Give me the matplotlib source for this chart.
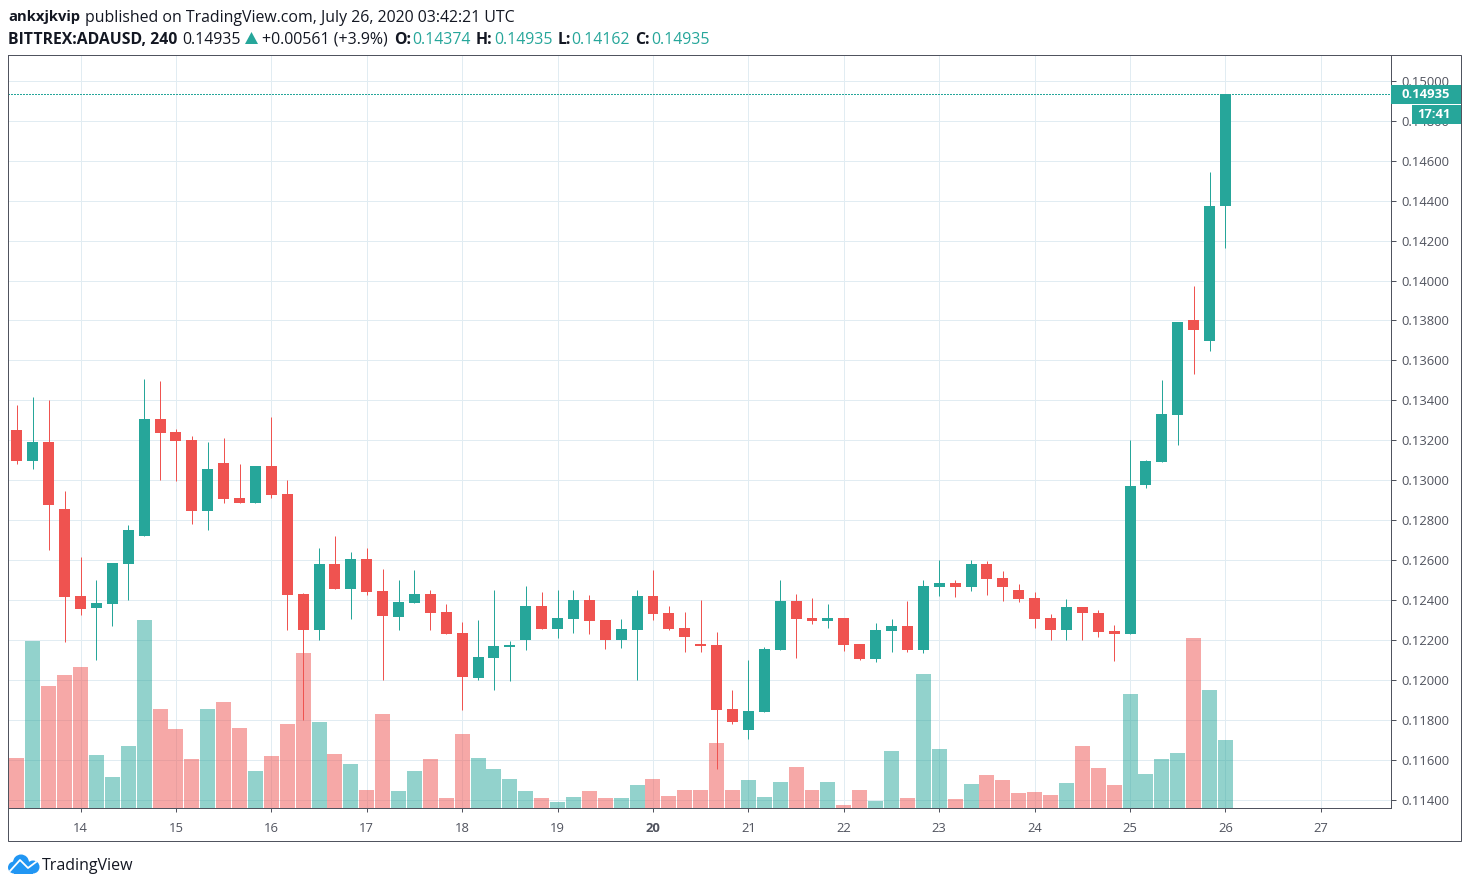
"""ADAUSD 4h candles with volume, TradingView style snapshot."""
import matplotlib
matplotlib.use('Agg')
import matplotlib.dates as mdates
import matplotlib.pyplot as plt
import numpy as np
import pandas as pd
from matplotlib.patches import Ellipse, Polygon, Rectangle

W, H = 1470, 888
GREEN = '#26a69a'
RED = '#ef5350'
GRID = '#e1ecf2'
AXIS = '#50535e'
DARK = '#131722'

first_bar = '2020-07-13 08:00'
opens = [.13252, .13097, .13192, .12857, .12422, .12362, .12382, .12582, .12722, .13307, .13242,
         .13202, .12847, .13087, .12912, .12887, .13072, .12932, .12432, .12252, .12582, .12457,
         .12607, .12447, .12317, .12387, .12432, .12342, .12237, .12012, .12112, .12167, .12202,
         .12372, .12257, .12307, .12402, .12302, .12202, .12252, .12422, .12337, .12262, .12182,
         .12177, .11857, .11752, .11842, .12152, .12397, .12312, .12297, .12312, .12182, .12107,
         .12247, .12272, .12152, .12467, .12487, .12467, .12582, .12512, .12452, .12412, .12312,
         .12252, .12367, .12337, .12247, .12232, .12977, .13092, .13327, .13802, .13697, .14374]
highs = [.13377, .13417, .13402, .12947, .12617, .12502, .12587, .12777, .13507, .13497, .13257,
         .13222, .13192, .13212, .13082, .13072, .13317, .13002, .12437, .12662, .12722, .12642,
         .12662, .12557, .12502, .12552, .12452, .12382, .12292, .12302, .12452, .12197, .12472,
         .12442, .12452, .12452, .12427, .12302, .12307, .12452, .12552, .12372, .12342, .12402,
         .12242, .11952, .12102, .12167, .12502, .12432, .12412, .12382, .12312, .12182, .12287,
         .12307, .12397, .12502, .12602, .12502, .12602, .12597, .12547, .12482, .12442, .12332,
         .12407, .12367, .12352, .12277, .13202, .13102, .13502, .13792, .13972, .14542, .14935]
lows = [.13082, .13057, .12652, .12192, .12327, .12102, .12272, .12402, .12722, .13002, .12997,
        .12782, .12752, .12887, .12887, .12887, .12912, .12252, .11802, .12202, .12457, .12307,
        .12427, .12002, .12252, .12387, .12252, .12232, .11852, .12002, .11952, .11997, .12152,
        .12257, .12212, .12237, .12232, .12157, .12162, .12002, .12302, .12252, .12142, .12142,
        .11552, .11782, .11702, .11842, .12152, .12112, .12282, .12262, .12147, .12102, .12092,
        .12142, .12142, .12137, .12422, .12417, .12447, .12427, .12397, .12392, .12262, .12202,
        .12202, .12202, .12217, .12097, .12232, .12962, .13092, .13177, .13532, .13647, .14162]
closes = [.13097, .13192, .12877, .12417, .12357, .12387, .12587, .12752, .13307, .13237, .13197,
          .12847, .13057, .12907, .12887, .13072, .12927, .12427, .12252, .12582, .12457, .12607,
          .12442, .12322, .12392, .12432, .12337, .12232, .12017, .12117, .12172, .12177, .12372,
          .12257, .12312, .12402, .12297, .12202, .12257, .12422, .12332, .12257, .12217, .12172,
          .11852, .11792, .11847, .12157, .12397, .12307, .12297, .12312, .12177, .12107, .12252,
          .12272, .12152, .12472, .12487, .12467, .12582, .12507, .12467, .12407, .12307, .12252,
          .12367, .12337, .12242, .12232, .12972, .13097, .13332, .13792, .13752, .14372, .14935]
volumes = [151, 502, 367, 400, 424, 160, 94, 187, 565, 298, 238, 148, 298, 319, 241, 112, 157, 253,
           466, 259, 163, 133, 54, 282, 51, 111, 147, 30, 222, 150, 117, 87, 51, 30, 18, 33, 51, 30,
           30, 69, 87, 36, 54, 54, 195, 54, 84, 33, 78, 123, 55, 79, 10, 55, 22, 172, 31, 403, 178,
           28, 73, 100, 85, 46, 49, 40, 76, 187, 121, 70, 343, 103, 148, 166, 511, 355, 205]

price_ticks = [0.114 + 0.002 * k for k in range(19)]
tick_days = ['2020-07-%02d' % d for d in range(14, 28)]
day_labels = [str(d) for d in range(14, 28)]
bold_day = '20'
countdown = '17:41'


def px_rect(x0, y0, x1, y1, **kw):
    """Rectangle from pixel corners, y measured from the top of the image."""
    return Rectangle((x0 / W, 1 - y1 / H), (x1 - x0) / W, (y1 - y0) / H,
                     transform=fig.transFigure, **kw)


def px_text(x, y, s, **kw):
    kw.setdefault('family', 'Open Sans')
    kw.setdefault('va', 'center')
    fig.text(x / W, 1 - y / H, s, **kw)


plt.rcParams['font.family'] = ['Open Sans', 'DejaVu Sans']

fig = plt.figure(figsize=(W / 100, H / 100), dpi=100, facecolor='white')
pos = [8 / W, 1 - 808 / H, (1391 - 8) / W, (808 - 55) / H]

ax = fig.add_axes(pos)
ax_vol = ax.twinx()
ax_px = fig.add_axes(pos, sharex=ax, sharey=ax)
ax.set_zorder(1)
ax_vol.set_zorder(2)
ax_px.set_zorder(3)
ax_vol.patch.set_visible(False)
ax_px.patch.set_visible(False)

opens = np.array(opens)
closes = np.array(closes)
highs = np.array(highs)
lows = np.array(lows)
times = mdates.date2num(pd.date_range(first_bar, periods=len(opens), freq='4h'))
colors = np.where(closes >= opens, GREEN, RED)

# volume goes under the candles, see-through over the grid
ax_vol.bar(times, volumes, width=0.157, color=colors, alpha=0.5, linewidth=0)
ax_vol.set_ylim(0, 2259)
ax_vol.axis('off')

ax_px.vlines(times, lows, highs, colors=colors, linewidth=0.72)
body_low = np.minimum(opens, closes)
body_h = np.abs(closes - opens)
ax_px.bar(times, body_h, bottom=body_low, width=0.115, color=colors, linewidth=0)
ax_px.axhline(closes[-1], color=GREEN, linestyle=(0, (1.5, 1.5)), linewidth=0.72, antialiased=False)
ax_px.axis('off')

ax.set_xlim(times[0] - 0.56 / 6, times[0] + 86.41 / 6)
ax.set_ylim(0.11359, 0.15129)
ax.set_xticks(mdates.date2num(pd.to_datetime(tick_days)))
ax.set_xticklabels(day_labels)
ax.set_yticks(price_ticks)
ax.set_yticklabels(['%.5f' % p for p in price_ticks])
ax.yaxis.tick_right()
ax.grid(True, color=GRID, linewidth=0.72)
ax.set_axisbelow(True)
ax.tick_params(axis='both', colors=AXIS, width=0.72, labelsize=9.4, labelcolor=AXIS)
ax.tick_params(axis='x', length=3, pad=7)
ax.tick_params(axis='y', length=3.6, pad=4)
for spine in ax.spines.values():
    spine.set_color(AXIS)
    spine.set_linewidth(0.72)
for lab in ax.get_xticklabels():
    if lab.get_text() == bold_day:
        lab.set_fontweight('bold')

# outer frame round chart and scales
fig.add_artist(px_rect(8, 55, 1461, 841, fill=False, edgecolor=AXIS, linewidth=0.72, zorder=9))

# last price and countdown tags
fig.add_artist(px_rect(1391, 85, 1461, 103.7, facecolor=GREEN, linewidth=0, zorder=10))
fig.add_artist(px_rect(1412, 105, 1461, 123.7, facecolor=GREEN, linewidth=0, zorder=10))
px_text(1402, 94, '%.5f' % closes[-1], color='white', fontsize=9.4, fontweight='bold', zorder=11)
px_text(1417, 114, countdown, color='white', fontsize=9.4, fontweight='bold', zorder=11)

# header
px_text(8, 17.5, 'ankxjkvip', color=DARK, fontsize=10.6, fontweight='bold')
px_text(85, 17.5, 'published on TradingView.com, July 26, 2020 03:42:21 UTC', color=DARK, fontsize=11.4)
px_text(8, 39.5, 'BITTREX:ADAUSD, 240', color=DARK, fontsize=11.3, fontweight='bold')
px_text(182, 39.5, '0.14935', color=DARK, fontsize=11.4)
fig.add_artist(Polygon([(245 / W, 1 - 44 / H), (258 / W, 1 - 44 / H), (251.5 / W, 1 - 32 / H)],
                       transform=fig.transFigure, facecolor=GREEN, linewidth=0))
px_text(262, 39.5, '+0.00561 (+3.9%)', color=DARK, fontsize=11.4)
ohlc_x = [(394, 412, 'O:', 0.14374), (476, 494, 'H:', 0.14935),
          (558, 571, 'L:', 0.14162), (635, 651, 'C:', 0.14935)]
for x_lab, x_val, lab, val in ohlc_x:
    px_text(x_lab, 39.5, lab, color=DARK, fontsize=11.4, fontweight='bold')
    px_text(x_val, 39.5, '%.5f' % val, color=GREEN, fontsize=11.4)

# logo
LOGO = '#2196f3'
for cx, cy, r in [(21, 862.5, 8), (14, 867.5, 6), (33, 867, 6.5)]:
    fig.add_artist(Ellipse((cx / W, 1 - cy / H), 2 * r / W, 2 * r / H,
                           transform=fig.transFigure, facecolor=LOGO, linewidth=0))
fig.add_artist(px_rect(14, 866, 33, 873.5, facecolor=LOGO, linewidth=0))
line_x = [10, 20, 28, 36]
line_y = [871, 860, 868, 862]
fig.add_artist(plt.Line2D([x / W for x in line_x], [1 - y / H for y in line_y],
                          transform=fig.transFigure, color='white', linewidth=1.3))
px_text(42, 866, 'TradingView', color=DARK, fontsize=11.5)

fig.savefig('out.png', dpi=100)
